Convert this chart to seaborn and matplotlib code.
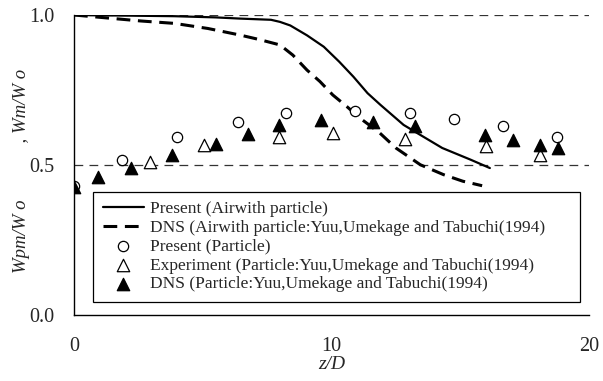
import matplotlib
matplotlib.use("Agg")
import matplotlib.pyplot as plt
import seaborn as sns

# Mean axial velocity of air (lines)
z_present_air = [0, 2.0, 3.9, 5.5, 6.45, 7.65, 8.0, 8.4, 9.05, 9.7, 10.3,
                 10.85, 11.4, 11.9, 12.8, 13.5, 14.3, 15.4, 16.15]
present_air = [1.0, 0.998, 0.996, 0.992, 0.988, 0.984, 0.977, 0.965, 0.932,
               0.894, 0.844, 0.794, 0.739, 0.700, 0.633, 0.597, 0.556, 0.517,
               0.489]

z_dns_air = [0, 1.3, 2.6, 3.9, 5.2, 6.45, 7.2, 8.0, 8.5, 9.05, 9.55, 10.05,
             10.6, 11.1, 11.85, 12.5, 13.45, 14.35, 15.1, 15.85]
dns_air = [1.0, 0.99, 0.98, 0.972, 0.955, 0.933, 0.918, 0.90, 0.866, 0.816,
           0.778, 0.733, 0.694, 0.656, 0.608, 0.556, 0.50, 0.467, 0.445, 0.43]

# Mean axial velocity of particles (markers)
z_present_p = [0, 1.85, 4.0, 6.35, 8.25, 10.9, 13.05, 14.75, 16.65, 18.75]
present_p = [0.43, 0.517, 0.592, 0.643, 0.672, 0.678, 0.672, 0.653, 0.628, 0.592]

z_exp_p = [2.95, 5.05, 7.95, 10.05, 12.85, 16.0, 18.1]
exp_p = [0.508, 0.567, 0.594, 0.606, 0.586, 0.564, 0.533]

z_dns_p = [0, 0.95, 2.2, 3.8, 5.5, 6.75, 7.95, 9.6, 11.6, 13.25, 15.95,
           17.05, 18.1, 18.8]
dns_p = [0.427, 0.458, 0.489, 0.533, 0.570, 0.603, 0.633, 0.650, 0.644,
         0.630, 0.600, 0.581, 0.567, 0.556]

labels = [
    "Present (Airwith particle)",
    "DNS (Airwith particle:Yuu,Umekage and Tabuchi(1994)",
    "Present (Particle)",
    "Experiment (Particle:Yuu,Umekage and Tabuchi(1994)",
    "DNS (Particle:Yuu,Umekage and Tabuchi(1994)",
]

sns.set_style("white")
plt.rcParams["font.family"] = ["Liberation Serif", "DejaVu Serif"]

fig = plt.figure(figsize=(6.03, 3.81), dpi=100)
ax = fig.add_axes([74 / 603, 1 - 314.5 / 381, 515 / 603, 299.5 / 381])

# Reference levels
for level in (0.5, 1.0):
    ax.axhline(level, color="#333333", linewidth=0.9, dashes=(7, 5), zorder=1)

sns.lineplot(x=z_present_air, y=present_air, ax=ax, color="black",
             linewidth=1.6, sort=False, label=labels[0], zorder=3)
sns.lineplot(x=z_dns_air, y=dns_air, ax=ax, color="black",
             linewidth=2.2, sort=False, label=labels[1], zorder=3)
ax.lines[-1].set_dashes((4.5, 2.5))

sns.scatterplot(x=z_present_p, y=present_p, ax=ax, marker="o", s=55,
                facecolor="white", edgecolor="black", linewidth=0.9,
                label=labels[2], zorder=4)
sns.scatterplot(x=z_exp_p, y=exp_p, ax=ax, marker="^", s=80,
                facecolor="white", edgecolor="black", linewidth=0.9,
                label=labels[3], zorder=4)
sns.scatterplot(x=z_dns_p, y=dns_p, ax=ax, marker="^", s=80,
                facecolor="black", edgecolor="black", linewidth=0.9,
                label=labels[4], zorder=5)

ax.set_xlim(0, 20)
ax.set_ylim(0, 1.0)
ax.set_xticks([0, 2, 4, 6, 8, 10, 12, 14, 16, 18, 20])
ax.set_xticklabels(["0", "", "", "", "", "10", "", "", "", "", "20"])
ax.set_yticks([0.0, 0.5, 1.0])
ax.set_yticklabels(["0.0", "0.5", "1.0"])
ax.set_yticks([i / 10 for i in range(11)], minor=True)
ax.tick_params(axis="both", which="both", direction="in", length=4,
               width=0.9, color="black", labelsize=14.5)
ax.tick_params(axis="x", pad=16)
ax.tick_params(axis="y", pad=14)

for side in ("top", "right"):
    ax.spines[side].set_visible(False)
for side in ("left", "bottom"):
    ax.spines[side].set_color("black")
    ax.spines[side].set_linewidth(1.0)

ax.set_xlabel("z/D", fontsize=14, style="italic", labelpad=0)
ax.set_ylabel("Wpm/W o" + " " * 12 + ", " + "Wm/W o",
              fontsize=13.5, style="italic")
ax.yaxis.set_label_coords(-0.085, 0.48)

leg = ax.legend(loc="lower left",
                bbox_to_anchor=(0.037, 0.042, 0.946, 0.36),
                mode="expand", ncol=1, fontsize=12.5, frameon=True,
                fancybox=False, edgecolor="black", framealpha=1,
                borderpad=0.55, labelspacing=0.15, handlelength=2.4,
                handletextpad=0.35, borderaxespad=0)
leg.get_frame().set_linewidth(0.9)

fig.savefig("out.png", dpi=100, facecolor="white")
